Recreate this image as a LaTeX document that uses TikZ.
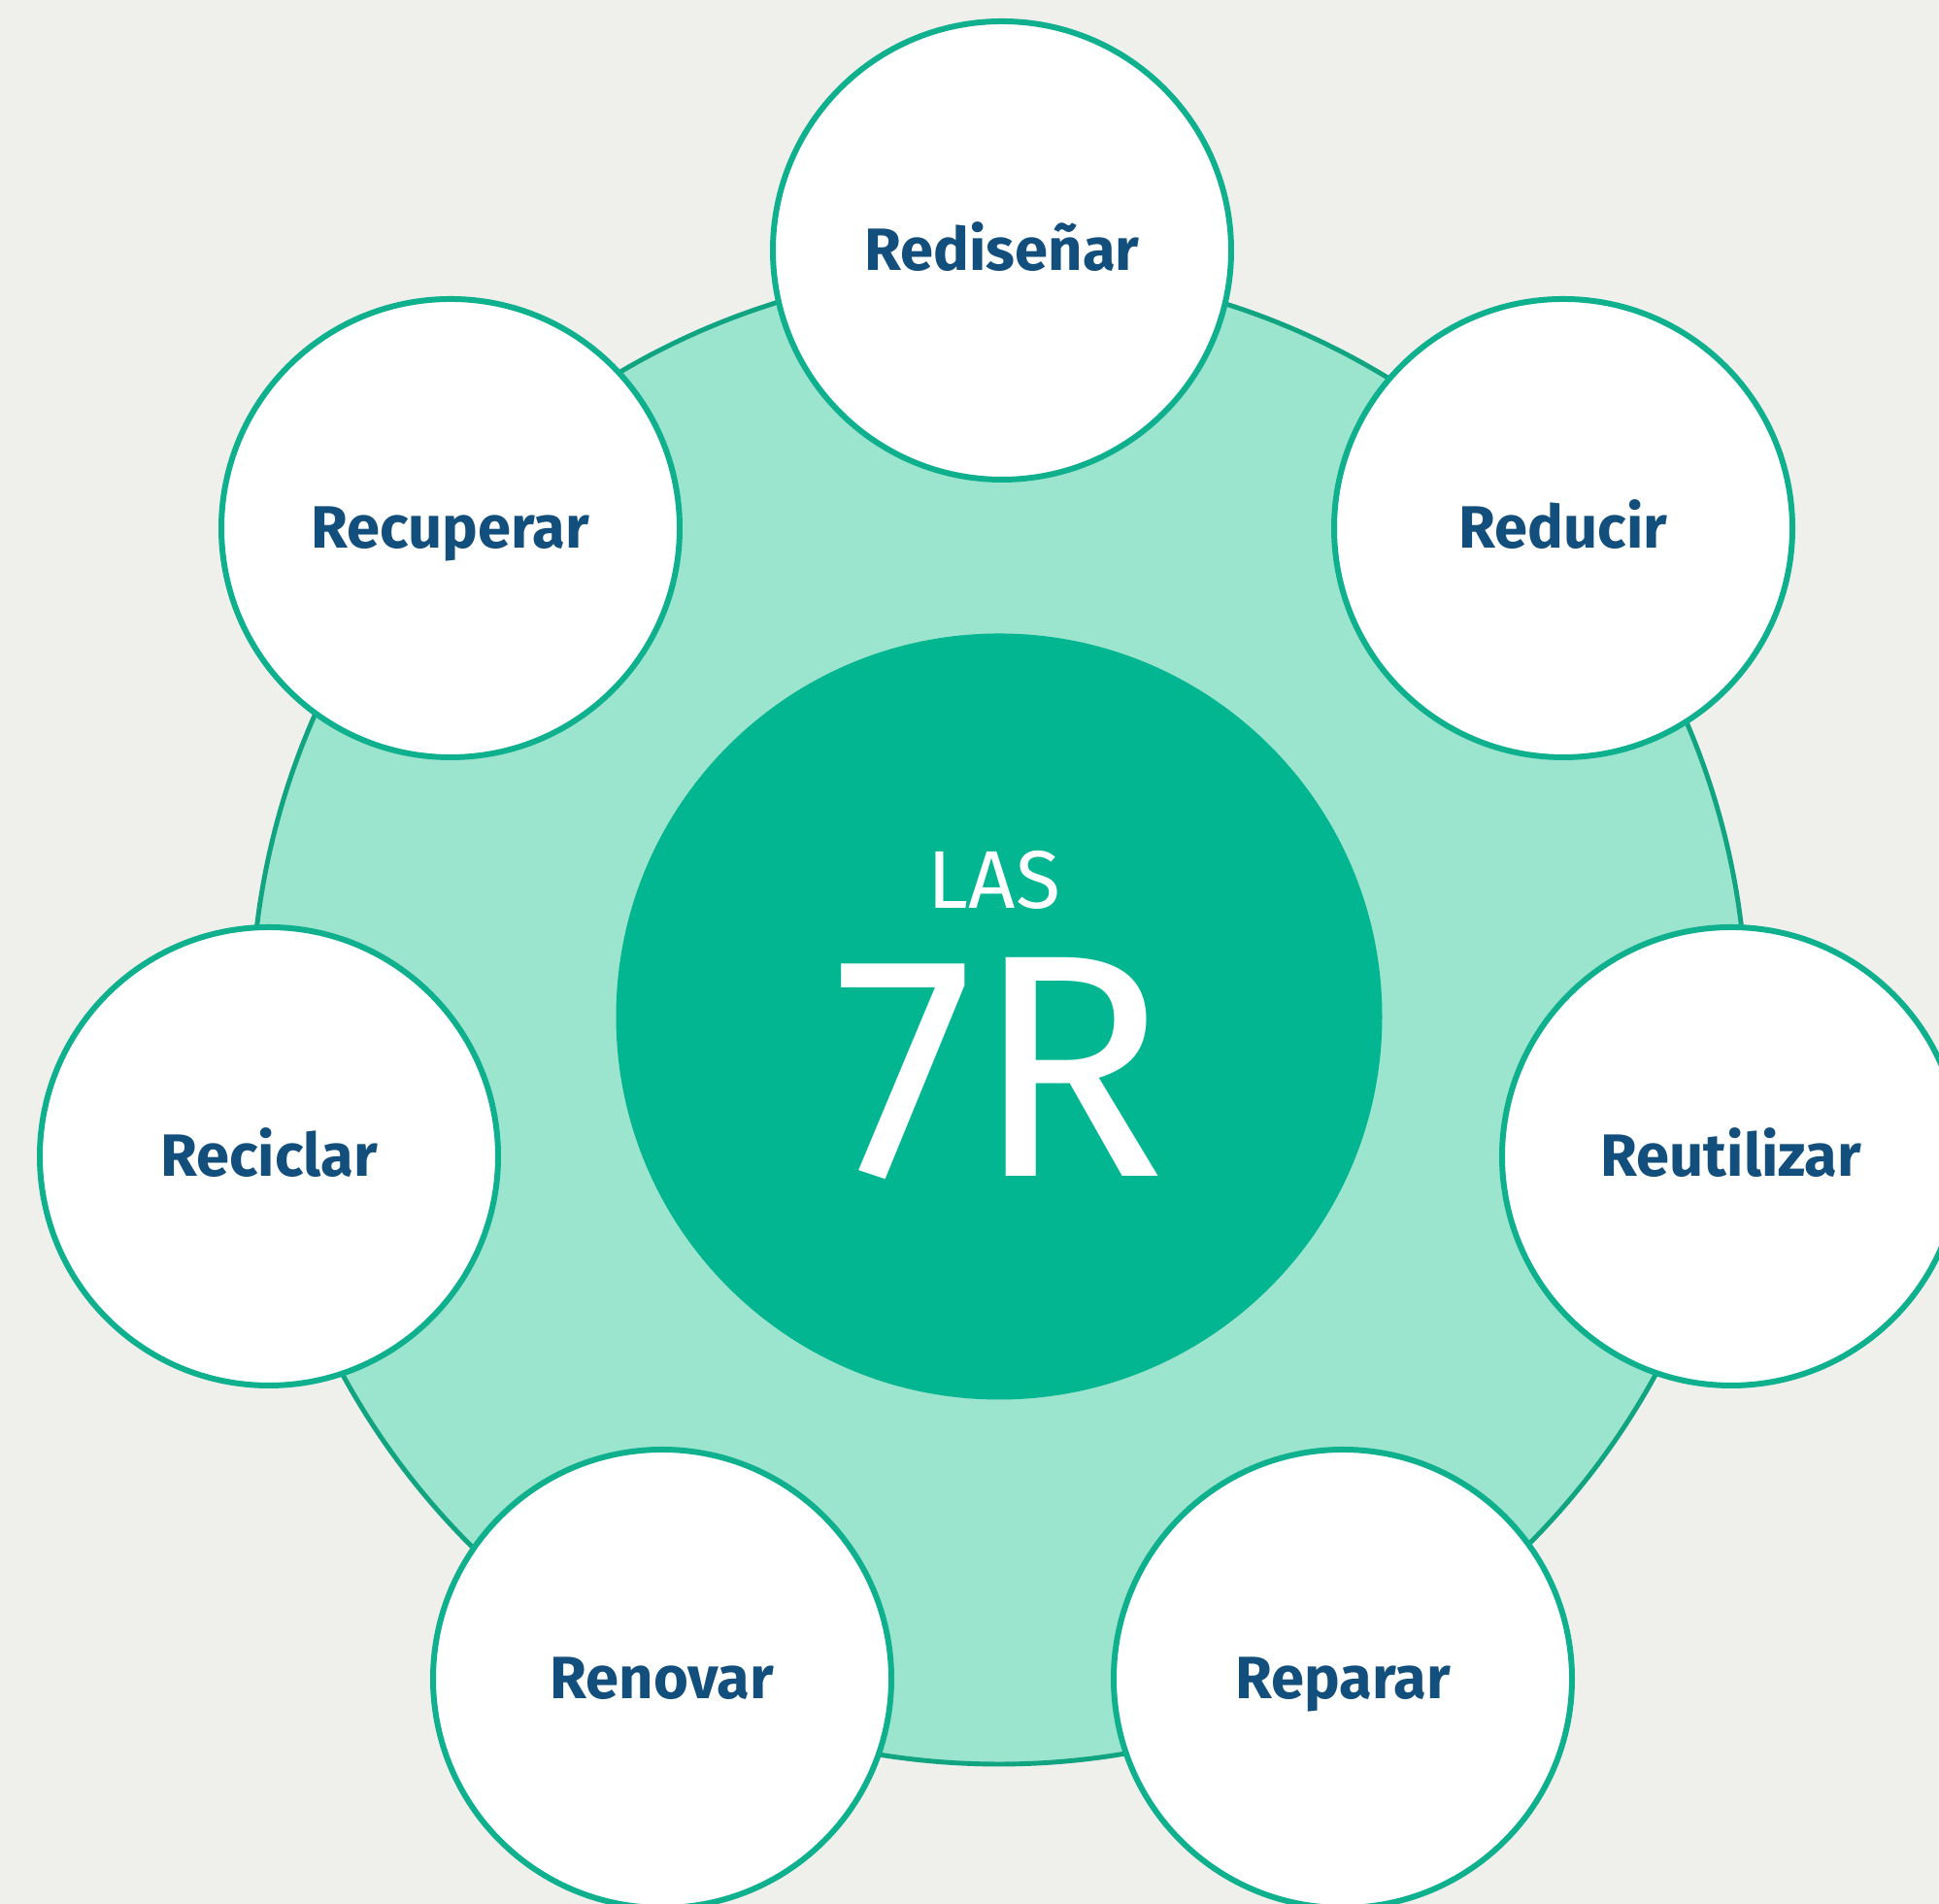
\documentclass[tikz,border=0pt]{standalone}
\usepackage{fontspec}
\newfontfamily\rfont{Fira Sans}
\definecolor{paper}{HTML}{EFEFEC}
\definecolor{ringfill}{HTML}{9BE4CD}
\definecolor{ringline}{HTML}{11A481}
\definecolor{corefill}{HTML}{02B692}
\definecolor{rline}{HTML}{0FB08D}
\definecolor{rtext}{HTML}{134F7C}
\tikzset{ring node/.style={circle, draw=ringline, line width=1.4pt, fill=ringfill,
    minimum size=15.4cm, inner sep=0pt}}
\tikzset{core node/.style={circle, fill=corefill, minimum size=7.89cm, inner sep=0pt}}
\tikzset{core text/.style={text=white, inner sep=0pt, anchor=base}}
\tikzset{r node/.style={circle, draw=rline, line width=1.7pt, fill=white,
    minimum size=4.72cm, inner sep=0pt, text=rtext, text height=11.7pt, text depth=0pt,
    font=\rfont\bfseries\fontsize{17.5}{17.5}\selectfont}}

\begin{document}
\begin{tikzpicture}
  \useasboundingbox (0,0) rectangle (19.97,19.61);
  \clip (0,0) rectangle (19.97,19.61);
  \fill [paper] (0,0) rectangle (19.97,19.61);

%  \node [core text] at (10.29, 9.14) {+};
  \node [ring node] (ring)   at (10.29, 9.14) {};
  \node [core node] (core)   at (10.29, 9.14) {};
  \node [core text, font=\rfont\fontsize{24}{24}\selectfont] (las)    at (10.24,10.25) {LAS};
  \node [core text, font=\rfont\fontsize{93}{93}\selectfont] (sevenr) at (10.30, 7.49) {7R};

  \node [r node]    (redisenar)  at (10.32,17.03) {Rediseñar};
  \node [r node]    (recuperar)  at ( 4.64,14.17) {Recuperar};
  \node [r node]    (reducir)    at (16.10,14.17) {Reducir};
  \node [r node]    (reciclar)   at ( 2.77, 7.70) {Reciclar};
  \node [r node]    (reutilizar) at (17.83, 7.70) {Reutilizar};
  \node [r node]    (renovar)    at ( 6.82, 2.32) {Renovar};
  \node [r node]    (reparar)    at (13.83, 2.32) {Reparar};
\end{tikzpicture}
\end{document}
